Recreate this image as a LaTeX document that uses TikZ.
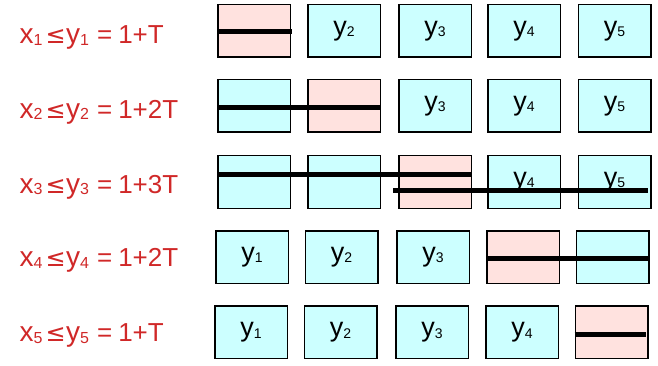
\documentclass[tikz,border=0pt]{standalone}
\usepackage{fontspec}
\setmainfont{Liberation Sans}
\newfontfamily\symfont{DejaVu Sans}
\definecolor{lblred}{RGB}{208,40,40}
\definecolor{pinkfill}{RGB}{255,226,223}
\definecolor{cyanfill}{RGB}{204,255,255}
% a letter of size #3 followed by an index of size #4, slightly lowered
\newcommand\letidx[4]{{\fontsize{#3}{#3}\selectfont #1}\raisebox{-1.5pt}{\fontsize{#4}{#4}\selectfont #2}}
% row label: x_i <= y_i = value
\newcommand\rowlabel[2]{\letidx{x}{#1}{28pt}{16pt}\hspace{3pt}{\symfont\fontsize{24pt}{24pt}\selectfont ≤}\hspace{0.5pt}\letidx{y}{#1}{28pt}{16pt}\hspace{8pt}=\hspace{6pt}#2}
\newcommand\yy[1]{\raisebox{-2pt}{\letidx{y}{#1}{27pt}{14pt}}}
\tikzset{
  cell/.style={draw=black, line width=1.5pt, fill=cyanfill, minimum width=72.5pt,
    minimum height=52.5pt, inner sep=0pt},
  hot/.style={cell, fill=pinkfill},
  bar/.style={draw=black, line width=5pt},
  lbl/.style={anchor=base west, inner sep=0pt, text=lblred, font=\fontsize{26pt}{26pt}\selectfont},
}
\begin{document}
\begin{tikzpicture}[x=1pt,y=-1pt]
\useasboundingbox (0,0) rectangle (658,366);

% row 1
\node[hot]  (b11) at (254,30.8) {};
\node[cell] (b12) at (344,30.8) {\yy{2}};
\node[cell] (b13) at (435,30.8) {\yy{3}};
\node[cell] (b14) at (524,30.8) {\yy{4}};
\node[cell] (b15) at (614.5,30.8) {\yy{5}};
\node[lbl]  (l1) at (19.5,44) {\rowlabel{1}{1+T}};

% row 2
\node[cell] (b21) at (254,106) {};
\node[hot]  (b22) at (344,106) {};
\node[cell] (b23) at (435,106) {\yy{3}};
\node[cell] (b24) at (524,106) {\yy{4}};
\node[cell] (b25) at (614.5,106) {\yy{5}};
\node[lbl]  (l2) at (19.5,118.3) {\rowlabel{2}{1+2T}};

% row 3
\node[cell] (b31) at (254,182) {};
\node[cell] (b32) at (344,182) {};
\node[hot]  (b33) at (435,182) {};
\node[cell] (b34) at (524,182) {\yy{4}};
\node[cell] (b35) at (614.5,182) {\yy{5}};
\node[lbl]  (l3) at (19.5,193.3) {\rowlabel{3}{1+3T}};

% row 4
\node[cell] (b41) at (252,257) {\yy{1}};
\node[cell] (b42) at (341.5,257) {\yy{2}};
\node[cell] (b43) at (433,257) {\yy{3}};
\node[hot]  (b44) at (523,257) {};
\node[cell] (b45) at (612.5,257) {};
\node[lbl]  (l4) at (19.5,266.7) {\rowlabel{4}{1+2T}};

% row 5
\node[cell] (b51) at (251,332.3) {\yy{1}};
\node[cell] (b52) at (340.5,332.3) {\yy{2}};
\node[cell] (b53) at (432,332.3) {\yy{3}};
\node[cell] (b54) at (522,332.3) {\yy{4}};
\node[hot]  (b55) at (611.5,332.3) {};
\node[lbl]  (l5) at (19.5,341.7) {\rowlabel{5}{1+T}};

% spans crossing the cells
\draw[bar] ([yshift=-1pt]b11.west) -- ([xshift=1pt,yshift=-1pt]b11.east);
\draw[bar] ([yshift=-1.3pt]b21.west) -- ([yshift=-1.3pt]b22.east);
\draw[bar] ([yshift=7pt]b31.west) -- ([yshift=7pt]b33.east);
\draw[bar] ([xshift=-5pt,yshift=-8.7pt]b33.west) -- ([xshift=-4pt,yshift=-8.7pt]b35.east);
\draw[bar] ([yshift=-1.3pt]b44.west) -- ([yshift=-1.3pt]b45.east);
\draw[bar] ([yshift=-1.7pt]b55.west) -- ([xshift=-3pt,yshift=-1.7pt]b55.east);
\end{tikzpicture}
\end{document}
